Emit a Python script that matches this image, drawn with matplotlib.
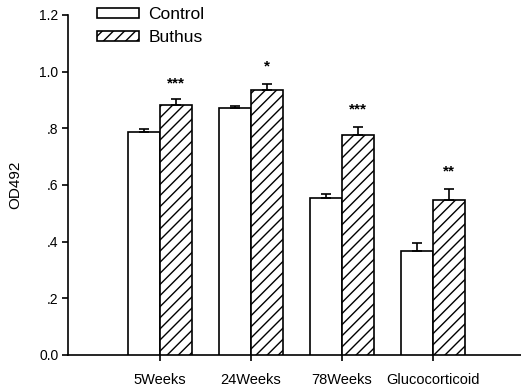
import matplotlib
matplotlib.use("Agg")
import matplotlib.pyplot as plt
import numpy as np
from matplotlib.patches import Patch

plt.rcParams['font.family'] = ['Liberation Sans', 'DejaVu Sans']
plt.rcParams['hatch.linewidth'] = 1.0

categories = ["5Weeks", "24Weeks", "78Weeks", "Glucocorticoid"]
control = [0.786, 0.871, 0.553, 0.368]
control_err = [0.012, 0.007, 0.016, 0.026]
buthus = [0.884, 0.935, 0.778, 0.547]
buthus_err = [0.021, 0.023, 0.026, 0.040]
stars = ["***", "*", "***", "**"]
star_y = [0.96, 1.02, 0.866, 0.649]
yticks = [0.0, 0.2, 0.4, 0.6, 0.8, 1.0, 1.2]
yticklabels = ["0.0", ".2", ".4", ".6", ".8", "1.0", "1.2"]

fig = plt.figure(figsize=(5.21, 3.89), dpi=100)
ax = fig.add_axes([68/521, 34/389, 453/521, 340/389])

x = np.arange(len(categories))
w = 0.352
ax.bar(x - w/2, control, w, color='white', edgecolor='black', linewidth=1.2,
       yerr=[np.zeros(len(control)), control_err], capsize=3.5,
       error_kw=dict(elinewidth=1.2, capthick=1.2, ecolor='black'), zorder=3)
ax.bar(x + w/2, buthus, w, color='white', edgecolor='black', linewidth=1.2,
       hatch='///',
       yerr=[np.zeros(len(buthus)), buthus_err], capsize=3.5,
       error_kw=dict(elinewidth=1.2, capthick=1.2, ecolor='black'), zorder=3)

for xi, s, sy in zip(x, stars, star_y):
    ax.text(xi + w/2, sy, s, ha='center', va='center', fontsize=11, fontweight='bold')

ax.set_xlim(-1.01, 3.97)
ax.set_ylim(0, 1.2)
ax.set_yticks(yticks)
ax.set_yticklabels(yticklabels, fontsize=10)
ax.set_xticks(x)
ax.set_xticklabels(categories, fontsize=10.5)
ax.tick_params(axis='both', direction='out', length=4, width=1.2, pad=3)
ax.tick_params(axis='x', pad=9)
for sp in ['top', 'right']:
    ax.spines[sp].set_visible(False)
for sp in ['left', 'bottom']:
    ax.spines[sp].set_linewidth(1.2)
ax.set_ylabel("OD492", fontsize=11, labelpad=12)

handles = [Patch(facecolor='white', edgecolor='black', linewidth=1.2, label='Control'),
           Patch(facecolor='white', edgecolor='black', linewidth=1.2, hatch='///', label='Buthus')]
ax.legend(handles=handles, loc='upper left', bbox_to_anchor=(97/521, 1 - 7/389),
          bbox_transform=fig.transFigure, frameon=False, fontsize=12.5,
          handlelength=2.4, handleheight=0.5, handletextpad=0.55,
          labelspacing=0.45, borderpad=0, borderaxespad=0)

fig.savefig("out.png", dpi=100)
